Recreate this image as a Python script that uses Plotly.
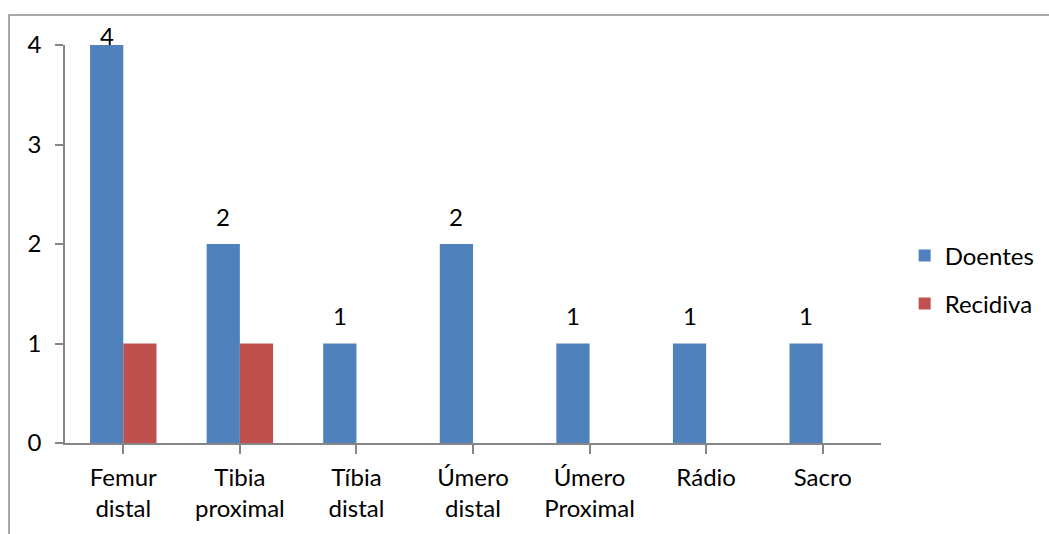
import plotly.graph_objects as go

# Categories and series values
categories = ["Femur<br>distal", "Tibia<br>proximal", "Tíbia<br>distal", "Úmero<br>distal",
              "Úmero<br>Proximal", "Rádio", "Sacro"]
doentes = [4, 2, 1, 2, 1, 1, 1]
recidiva = [1, 1, 0, 0, 0, 0, 0]
y_ticks = [0, 1, 2, 3, 4]

BLUE = "#4F81BD"
RED = "#C0504D"
AXIS = "#868686"
FONT = "Lato, 'Open Sans', sans-serif"
FS = 24
BARGAP = 0.43

fig = go.Figure()
fig.add_trace(go.Bar(name="Doentes", x=list(range(len(categories))), y=doentes,
                     marker=dict(color=BLUE, line=dict(width=0)), legendgroup="a"))
fig.add_trace(go.Bar(name="Recidiva", x=list(range(len(categories))), y=recidiva,
                     marker=dict(color=RED, line=dict(width=0)), legendgroup="b"))

# Data labels above the Doentes bars (kept inside the chart frame at the top)
ymax = max(y_ticks)
offset = (1 - BARGAP) / 4
for i, v in enumerate(doentes):
    fig.add_annotation(x=i - offset, y=v, xref="x", yref="y", text=str(v),
                       showarrow=False, yanchor="middle",
                       yshift=28 if v < ymax else 10,
                       font=dict(family=FONT, size=FS, color="#000000"))

# Outer chart frame
fig.add_shape(type="rect", xref="paper", yref="paper",
              x0=-0.0686, x1=1.25, y0=-0.30, y1=1.0754,
              line=dict(color="#8C8C8C", width=1.5), fillcolor="rgba(0,0,0,0)", layer="below")

fig.update_layout(
    width=1049, height=534,
    margin=dict(l=65, r=168, t=45, b=91, autoexpand=False),
    paper_bgcolor="white", plot_bgcolor="white",
    barmode="group", bargap=BARGAP, bargroupgap=0,
    font=dict(family=FONT, size=FS, color="#000000"),
    showlegend=True,
    legend=dict(x=1.029, y=0.41, xanchor="left", yanchor="middle",
                font=dict(family=FONT, size=FS, color="#000000"),
                tracegroupgap=14, bgcolor="rgba(0,0,0,0)"),
    xaxis=dict(tickmode="array", tickvals=list(range(len(categories))), ticktext=categories,
               range=[-0.5, len(categories) - 0.5],
               showline=True, linecolor=AXIS, linewidth=1.5,
               ticks="outside", ticklen=9, tickcolor=AXIS, tickwidth=1.5,
               ticklabelstandoff=3,
               showgrid=False, zeroline=False),
    yaxis=dict(range=[0, ymax], tickvals=y_ticks,
               showline=True, linecolor=AXIS, linewidth=1.5,
               ticks="outside", ticklen=8, tickcolor=AXIS, tickwidth=1.5,
               ticklabelstandoff=9,
               showgrid=False, zeroline=False),
)

fig.write_html("out.html")
